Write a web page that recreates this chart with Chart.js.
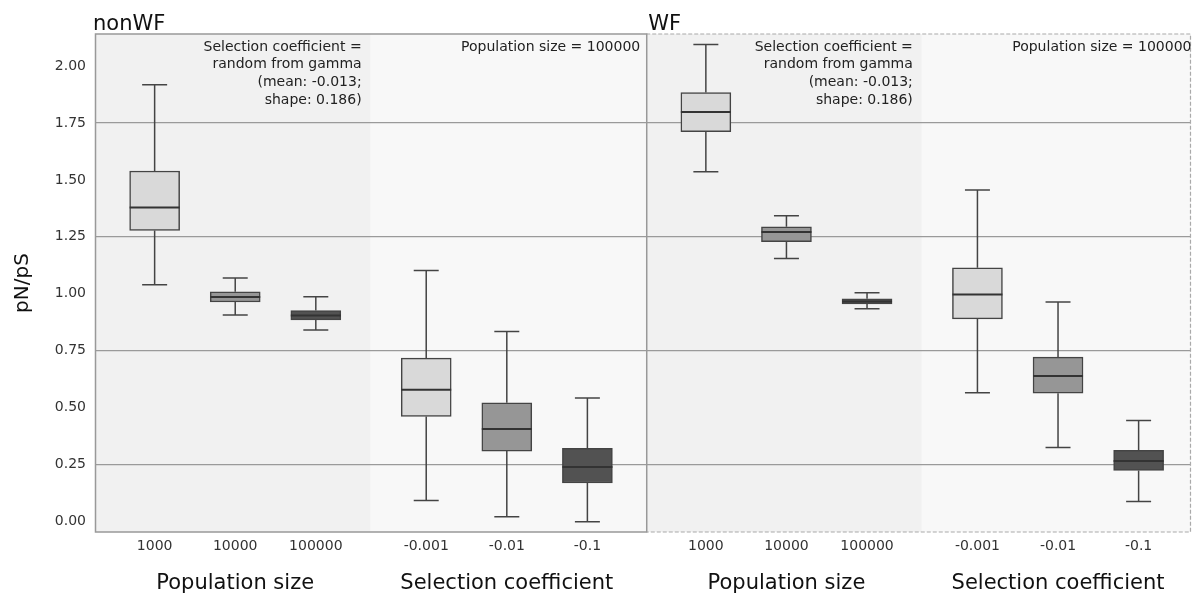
<!DOCTYPE html>
<html>
<head>
<meta charset="utf-8">
<script src="https://cdn.jsdelivr.net/npm/chart.js@4"></script>
<style>
  body { margin: 0; background: #fff; }
  #wrap { width: 1193px; height: 594px; }
</style>
</head>
<body>
<div id="wrap"><canvas id="grafico"></canvas></div>
<script>
/* ===================== DATOS ===================== */

const categorias = ["1000", "10000", "100000", "-0.001", "-0.01", "-0.1"];
const posiciones = [0.74, 1.74, 2.74, 4.11, 5.11, 6.11];
const desplazamientoWF = 6.84;
const ticksY = [0, 0.25, 0.5, 0.75, 1, 1.25, 1.5, 1.75, 2];

// nonWF
const nonWFMin = [1.040, 0.907, 0.841, 0.093, 0.022, 0.000];
const nonWFQ1  = [1.278, 0.964, 0.886, 0.462, 0.310, 0.170];
const nonWFMed = [1.379, 0.986, 0.905, 0.579, 0.407, 0.240];
const nonWFQ3  = [1.539, 1.009, 0.927, 0.718, 0.522, 0.322];
const nonWFMax = [1.917, 1.069, 0.987, 1.102, 0.835, 0.543];

// WF
const wfMin = [1.536, 1.155, 0.935, 0.566, 0.326, 0.089];
const wfQ1  = [1.712, 1.229, 0.956, 0.890, 0.564, 0.225];
const wfMed = [1.798, 1.271, 0.966, 0.997, 0.639, 0.266];
const wfQ3  = [1.883, 1.294, 0.978, 1.114, 0.722, 0.313];
const wfMax = [2.094, 1.343, 1.005, 1.456, 0.964, 0.444];

/* ===================== ESTILO ===================== */

const COLORES = ["#d9d9d9", "#969696", "#525252"];
const BORDE = "#444";
const FUENTE = "DejaVu Sans";

const cajas = [];
categorias.forEach((c, i) => cajas.push({
  x: posiciones[i], min: nonWFMin[i], q1: nonWFQ1[i], med: nonWFMed[i], q3: nonWFQ3[i], max: nonWFMax[i]
}));
categorias.forEach((c, i) => cajas.push({
  x: posiciones[i] + desplazamientoWF, min: wfMin[i], q1: wfQ1[i], med: wfMed[i], q3: wfQ3[i], max: wfMax[i]
}));

const fondos = [
  [0, 3.42, "#f1f1f1"], [3.42, 6.84, "#f8f8f8"],
  [6.84, 10.26, "#f1f1f1"], [10.26, 13.6, "#f8f8f8"]
];

/* ===================== PLUGIN ===================== */

const pluginCajas = {
  id: "cajas",
  beforeDraw(chart) {
    const { ctx, chartArea: a, scales: { x } } = chart;
    ctx.save();
    fondos.forEach(([x0, x1, c]) => {
      const p0 = x.getPixelForValue(x0), p1 = x.getPixelForValue(x1);
      ctx.fillStyle = c;
      ctx.fillRect(p0, a.top, p1 - p0, a.bottom - a.top);
    });
    ctx.restore();
  },
  beforeDatasetsDraw(chart) {
    const { ctx, scales: { x, y } } = chart;
    ctx.save();
    ctx.strokeStyle = BORDE;
    ctx.lineWidth = 1.5;
    const cap = 0.155;
    cajas.forEach(b => {
      const px = x.getPixelForValue(b.x);
      const c0 = x.getPixelForValue(b.x - cap), c1 = x.getPixelForValue(b.x + cap);
      ctx.beginPath();
      ctx.moveTo(px, y.getPixelForValue(b.q3));
      ctx.lineTo(px, y.getPixelForValue(b.max));
      ctx.moveTo(c0, y.getPixelForValue(b.max));
      ctx.lineTo(c1, y.getPixelForValue(b.max));
      ctx.moveTo(px, y.getPixelForValue(b.q1));
      ctx.lineTo(px, y.getPixelForValue(b.min));
      ctx.moveTo(c0, y.getPixelForValue(b.min));
      ctx.lineTo(c1, y.getPixelForValue(b.min));
      ctx.stroke();
    });
    ctx.restore();
  },
  afterDatasetsDraw(chart) {
    const { ctx, scales: { y } } = chart;
    const meta = chart.getDatasetMeta(0);
    ctx.save();
    ctx.strokeStyle = "#333";
    ctx.lineWidth = 2;
    meta.data.forEach((el, i) => {
      const py = y.getPixelForValue(cajas[i].med);
      ctx.beginPath();
      ctx.moveTo(el.x - el.width / 2, py);
      ctx.lineTo(el.x + el.width / 2, py);
      ctx.stroke();
    });
    ctx.restore();
  },
  afterDraw(chart) {
    const { ctx, chartArea: a, scales: { x } } = chart;
    const mid = x.getPixelForValue(desplazamientoWF);
    ctx.save();

    // bordes de paneles
    ctx.strokeStyle = "#aaa";
    ctx.lineWidth = 1.2;
    ctx.setLineDash([4, 2]);
    ctx.beginPath();
    ctx.moveTo(mid, a.top); ctx.lineTo(a.right - 0.5, a.top);
    ctx.lineTo(a.right - 0.5, a.bottom); ctx.lineTo(mid, a.bottom);
    ctx.stroke();
    ctx.setLineDash([]);
    ctx.strokeStyle = "#999";
    ctx.lineWidth = 1.5;
    ctx.strokeRect(a.left + 0.5, a.top, mid - a.left, a.bottom - a.top);

    // títulos de panel
    ctx.fillStyle = "#111";
    ctx.font = `21px "${FUENTE}"`;
    ctx.textAlign = "left";
    ctx.textBaseline = "alphabetic";
    ctx.fillText("nonWF", a.left - 2, 30);
    ctx.fillText("WF", mid + 2, 30);

    // anotaciones
    ctx.font = `14px "${FUENTE}"`;
    ctx.fillStyle = "#222";
    ctx.textAlign = "right";
    ctx.textBaseline = "middle";
    const lineas = ["Selection coefficient =", "random from gamma", "(mean: -0.013;", "shape: 0.186)"];
    [0, desplazamientoWF].forEach(off => {
      const xr = x.getPixelForValue(off + 3.42) - 9;
      lineas.forEach((t, i) => ctx.fillText(t, xr, 47 + i * 17.7));
      ctx.fillText("Population size = 100000", x.getPixelForValue(off + 6.84) - 6, 47);
    });

    // títulos de eje x
    ctx.font = `21px "${FUENTE}"`;
    ctx.fillStyle = "#111";
    ctx.textAlign = "center";
    [0, desplazamientoWF].forEach(off => {
      ctx.fillText("Population size", x.getPixelForValue(off + posiciones[1]), 584);
      ctx.fillText("Selection coefficient", x.getPixelForValue(off + posiciones[4]), 584);
    });
    ctx.restore();
  }
};

/* ===================== GRÁFICO ===================== */

new Chart(document.getElementById("grafico"), {
  type: "bar",
  data: {
    datasets: [{
      data: cajas.map(b => ({ x: b.x, y: [b.q1, b.q3] })),
      backgroundColor: cajas.map((b, i) => COLORES[i % 3]),
      borderColor: BORDE,
      borderWidth: 1.5,
      borderSkipped: false,
      barThickness: 50
    }]
  },
  options: {
    responsive: true,
    maintainAspectRatio: false,
    animation: false,
    events: [],
    layout: { padding: { top: 34, right: 2, left: 0, bottom: 0 } },
    plugins: { legend: { display: false }, tooltip: { enabled: false } },
    scales: {
      x: {
        type: "linear",
        min: 0,
        max: 13.6,
        offset: false,
        grid: { display: false, drawTicks: false },
        border: { display: false },
        afterBuildTicks: s => { s.ticks = cajas.map(b => ({ value: b.x })); },
        afterFit: s => { s.height = 62; },
        ticks: {
          autoSkip: false,
          maxRotation: 0,
          padding: 6,
          color: "#333",
          font: { family: FUENTE, size: 14 },
          callback: (v, i) => categorias[i % categorias.length]
        }
      },
      y: {
        min: -0.045,
        max: 2.14,
        grid: {
          drawTicks: false,
          lineWidth: 1.2,
          color: c => (Math.round(c.tick.value * 4) % 2 === 1 ? "#9a9a9a" : "rgba(0,0,0,0)")
        },
        border: { display: false },
        afterBuildTicks: s => { s.ticks = ticksY.map(v => ({ value: v })); },
        afterFit: s => { s.width = 95; },
        title: {
          display: true,
          text: "pN/pS",
          color: "#111",
          font: { family: FUENTE, size: 20 },
          padding: { top: 11, bottom: 0 }
        },
        ticks: {
          padding: 9,
          color: "#333",
          font: { family: FUENTE, size: 14 },
          callback: v => v.toFixed(2)
        }
      }
    }
  },
  plugins: [pluginCajas]
});
</script>
</body>
</html>
